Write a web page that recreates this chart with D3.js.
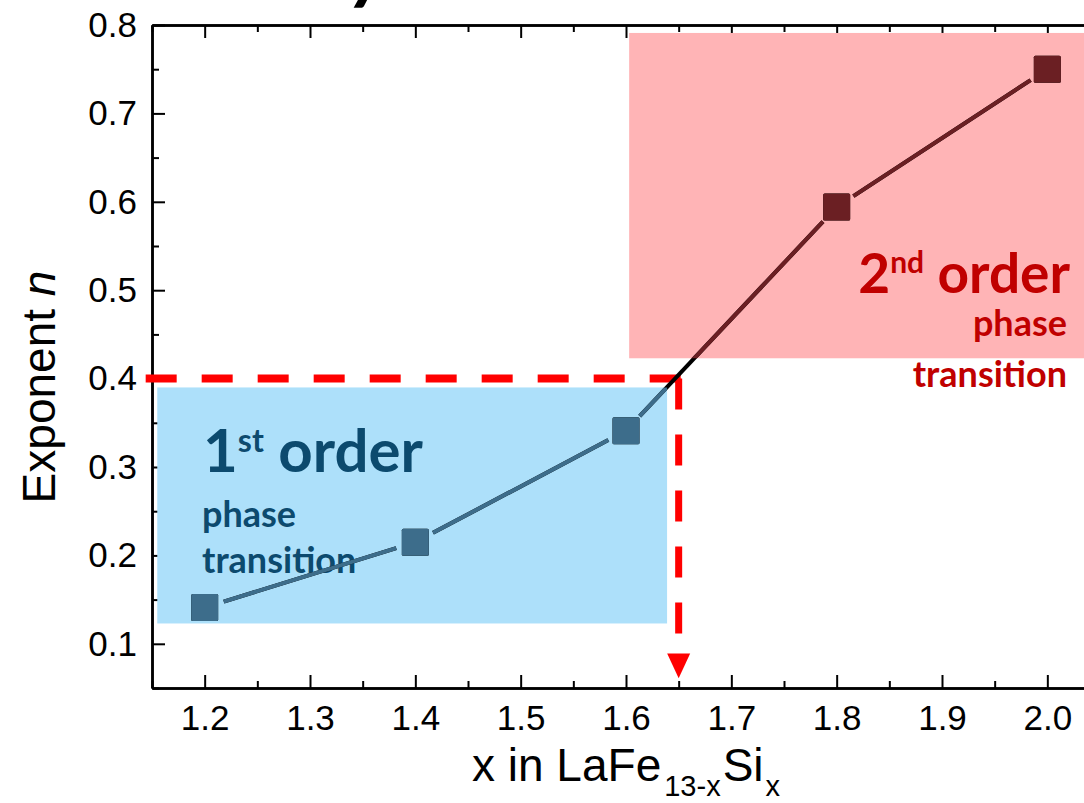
<!DOCTYPE html>
<html>
<head>
<meta charset="utf-8">
<script src="https://cdn.jsdelivr.net/npm/d3@7"></script>
<style>
  html, body { margin: 0; padding: 0; background: #fff; }
  svg { display: block; }
</style>
</head>
<body>
<script>
// Composition x in LaFe(13-x)Si(x) and the fitted exponent n
const siContent = [1.2, 1.4, 1.6, 1.8, 2.0];
const exponentN = [0.141, 0.215, 0.341, 0.594, 0.750];

// Axis ticks
const xMajorTicks = [1.2, 1.3, 1.4, 1.5, 1.6, 1.7, 1.8, 1.9, 2.0];
const xMinorTicks = [1.15, 1.25, 1.35, 1.45, 1.55, 1.65, 1.75, 1.85, 1.95, 2.05];
const yMajorTicks = [0.1, 0.2, 0.3, 0.4, 0.5, 0.6, 0.7, 0.8];
const yMinorTicks = [0.05, 0.15, 0.25, 0.35, 0.45, 0.55, 0.65, 0.75];

// Shaded regimes: [x0, x1, y0, y1] in data units
const firstOrderRegion = [1.155, 1.639, 0.123, 0.390];
const secondOrderRegion = [1.603, 2.10, 0.423, 0.791];

// Crossover marker: n = 0.4 reached at x = 1.65
const crossoverX = 1.65;
const crossoverN = 0.4;
const guideStartX = 1.144;
const guideEndN = 0.110;
const arrowTopN = 0.089;
const arrowTipN = 0.061;

const W = 1084, H = 803;
const svg = d3.select("body").append("svg").attr("width", W).attr("height", H);

const x = d3.scaleLinear().domain([1.15, 2.05]).range([152, 1100]);
const y = d3.scaleLinear().domain([0.05, 0.8]).range([688, 25]);

const tickFont = "'Liberation Sans', Arial, sans-serif";
const noteFont = "Lato, 'Open Sans', sans-serif";

// ---- axes (ticks point inward) ----
function styleAxis(g) {
  g.select(".domain").attr("stroke", "#000").attr("stroke-width", 2.5);
  g.selectAll(".tick line").attr("stroke", "#000").attr("stroke-width", 2);
  g.selectAll(".tick text").attr("fill", "#000")
    .style("font-family", tickFont).style("font-size", "35px");
}

const axisBottomG = svg.append("g").attr("transform", `translate(0,${y(0.05)})`)
  .call(d3.axisBottom(x).tickValues(xMajorTicks).tickSizeInner(-13).tickSizeOuter(0)
    .tickPadding(17).tickFormat(d3.format(".1f")));
styleAxis(axisBottomG);
const axisBottomMinorG = svg.append("g").attr("transform", `translate(0,${y(0.05)})`)
  .call(d3.axisBottom(x).tickValues(xMinorTicks).tickSizeInner(-7).tickSizeOuter(0).tickFormat(""));
styleAxis(axisBottomMinorG);

const axisTopG = svg.append("g").attr("transform", `translate(0,${y(0.8)})`)
  .call(d3.axisTop(x).tickValues(xMajorTicks).tickSizeInner(-13).tickSizeOuter(0).tickFormat(""));
styleAxis(axisTopG);
const axisTopMinorG = svg.append("g").attr("transform", `translate(0,${y(0.8)})`)
  .call(d3.axisTop(x).tickValues(xMinorTicks).tickSizeInner(-7).tickSizeOuter(0).tickFormat(""));
styleAxis(axisTopMinorG);

const axisLeftG = svg.append("g").attr("transform", `translate(${x(1.15)},0)`)
  .call(d3.axisLeft(y).tickValues(yMajorTicks).tickSizeInner(-13).tickSizeOuter(0)
    .tickPadding(15).tickFormat(d3.format(".1f")));
styleAxis(axisLeftG);
const axisLeftMinorG = svg.append("g").attr("transform", `translate(${x(1.15)},0)`)
  .call(d3.axisLeft(y).tickValues(yMinorTicks).tickSizeInner(-7).tickSizeOuter(0).tickFormat(""));
styleAxis(axisLeftMinorG);

// ---- axis titles ----
const xTitle = svg.append("text")
  .attr("x", 472).attr("y", 781)
  .style("font-family", tickFont).style("font-size", "46px").attr("fill", "#000");
xTitle.append("tspan").text("x in LaFe");
xTitle.append("tspan").attr("dx", 3).attr("dy", 15).style("font-size", "29px").text("13-x");
xTitle.append("tspan").attr("dx", 2).attr("dy", -15).text("Si");
xTitle.append("tspan").attr("dx", 2).attr("dy", 15).style("font-size", "29px").text("x");

const yTitle = svg.append("text")
  .attr("transform", "translate(55,387) rotate(-90)")
  .attr("text-anchor", "middle")
  .style("font-family", tickFont).style("font-size", "46px").attr("fill", "#000");
yTitle.append("tspan").text("Exponent ");
yTitle.append("tspan").style("font-style", "italic").text("n");

// descender of the panel heading above the frame
svg.append("text").attr("x", 350).attr("y", -6)
  .style("font-family", noteFont).style("font-size", "80px")
  .style("font-weight", "bold").style("font-style", "italic")
  .attr("fill", "#000").text("y");

// ---- crossover guide (red dashed) ----
const guide = svg.append("g");
guide.append("line")
  .attr("x1", x(guideStartX)).attr("x2", x(crossoverX) + 3.5)
  .attr("y1", y(crossoverN)).attr("y2", y(crossoverN))
  .attr("stroke", "#ff0000").attr("stroke-width", 8)
  .attr("stroke-dasharray", "31,25");
guide.append("line")
  .attr("x1", x(crossoverX)).attr("x2", x(crossoverX))
  .attr("y1", y(crossoverN)).attr("y2", y(guideEndN))
  .attr("stroke", "#ff0000").attr("stroke-width", 7)
  .attr("stroke-dasharray", "31,25");
guide.append("path")
  .attr("d", d3.line()([
    [x(crossoverX) - 11.5, y(arrowTopN)],
    [x(crossoverX) + 11.5, y(arrowTopN)],
    [x(crossoverX), y(arrowTipN)]
  ]) + "Z")
  .attr("fill", "#ff0000");

// ---- shaded regimes ----
function regionRect(g, r) {
  return g.append("rect")
    .attr("x", x(r[0])).attr("y", y(r[3]))
    .attr("width", x(r[1]) - x(r[0])).attr("height", y(r[2]) - y(r[3]));
}
regionRect(svg, firstOrderRegion).attr("fill", "#ade0fa");
regionRect(svg, secondOrderRegion).attr("fill", "#ffb4b6");

const defs = svg.append("defs");
regionRect(defs.append("clipPath").attr("id", "clip-first"), firstOrderRegion);
regionRect(defs.append("clipPath").attr("id", "clip-second"), secondOrderRegion);

// ---- regime labels ----
const firstLabel = svg.append("text").attr("x", 203).attr("y", 472)
  .style("font-family", noteFont).style("font-weight", "bold").style("font-size", "60px")
  .attr("fill", "#0c4a6e");
firstLabel.append("tspan").text("1");
firstLabel.append("tspan").attr("dy", -20).style("font-size", "32px").text("st");
firstLabel.append("tspan").attr("dy", 20).text(" order");
svg.append("text").attr("x", 202).attr("y", 527)
  .style("font-family", noteFont).style("font-weight", "bold").style("font-size", "36px")
  .attr("fill", "#0c4a6e").text("phase");
svg.append("text").attr("x", 202).attr("y", 573)
  .style("font-family", noteFont).style("font-weight", "bold").style("font-size", "36px")
  .attr("fill", "#0c4a6e").text("transition");

const secondLabel = svg.append("text").attr("x", 1070).attr("y", 293).attr("text-anchor", "end")
  .style("font-family", noteFont).style("font-weight", "bold").style("font-size", "55px")
  .attr("fill", "#c00000");
secondLabel.append("tspan").text("2");
secondLabel.append("tspan").attr("dy", -20).style("font-size", "30px").text("nd");
secondLabel.append("tspan").attr("dy", 20).text(" order");
svg.append("text").attr("x", 1067).attr("y", 336).attr("text-anchor", "end")
  .style("font-family", noteFont).style("font-weight", "bold").style("font-size", "36px")
  .attr("fill", "#c00000").text("phase");
svg.append("text").attr("x", 1067).attr("y", 387).attr("text-anchor", "end")
  .style("font-family", noteFont).style("font-weight", "bold").style("font-size", "36px")
  .attr("fill", "#c00000").text("transition");

// ---- data: line segments with a gap at each symbol, plus square symbols ----
const pts = siContent.map((v, i) => [x(v), y(exponentN[i])]);
const gap = 20;
const segments = d3.pairs(pts).map(([a, b]) => {
  const dx = b[0] - a[0], dy = b[1] - a[1];
  const len = Math.hypot(dx, dy);
  const ux = dx / len, uy = dy / len;
  return [[a[0] + ux * gap, a[1] + uy * gap], [b[0] - ux * gap, b[1] - uy * gap]];
});

function drawSeries(color, clipId) {
  const g = svg.append("g");
  if (clipId) g.attr("clip-path", `url(#${clipId})`);
  g.selectAll("path.seg").data(segments).join("path")
    .attr("class", "seg")
    .attr("d", d => d3.line()(d))
    .attr("stroke", color).attr("stroke-width", 4).attr("fill", "none");
  const s = 27;
  g.selectAll("rect.sym").data(pts).join("rect")
    .attr("class", "sym")
    .attr("x", d => d[0] - s / 2).attr("y", d => d[1] - s / 2)
    .attr("width", s).attr("height", s).attr("rx", 1.5)
    .attr("fill", color);
}
drawSeries("#000000", null);
drawSeries("#3d6d8b", "clip-first");
drawSeries("#6b1f23", "clip-second");
</script>
</body>
</html>
